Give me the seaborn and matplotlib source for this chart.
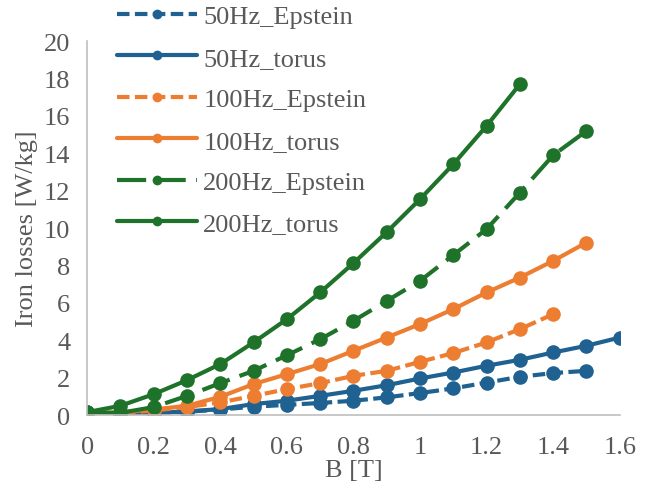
import numpy as np
import pandas as pd
import matplotlib
matplotlib.use("Agg")
import matplotlib.pyplot as plt
import seaborn as sns

sns.set_theme(style="white")
plt.rcParams['font.family'] = ['Liberation Serif', 'DejaVu Serif']

B_50_epstein = [0, 0.1, 0.2, 0.3, 0.4, 0.5, 0.6, 0.7, 0.8, 0.9, 1.0, 1.1, 1.2, 1.3, 1.4, 1.5]
P_50_epstein = [0.0, 0.04, 0.1, 0.18, 0.3, 0.45, 0.55, 0.65, 0.77, 0.95, 1.18, 1.43, 1.74, 2.05, 2.25, 2.37]
B_50_torus = [0, 0.1, 0.2, 0.3, 0.4, 0.5, 0.6, 0.7, 0.8, 0.9, 1.0, 1.1, 1.2, 1.3, 1.4, 1.5, 1.6]
P_50_torus = [0.0, 0.05, 0.12, 0.2, 0.32, 0.59, 0.77, 1.03, 1.3, 1.6, 1.96, 2.28, 2.64, 2.96, 3.35, 3.71, 4.15]
B_100_epstein = [0, 0.1, 0.2, 0.3, 0.4, 0.5, 0.6, 0.7, 0.8, 0.9, 1.0, 1.1, 1.2, 1.3, 1.4]
P_100_epstein = [0.05, 0.1, 0.25, 0.43, 0.68, 1.03, 1.39, 1.71, 2.1, 2.37, 2.85, 3.32, 3.89, 4.6, 5.4]
B_100_torus = [0, 0.1, 0.2, 0.3, 0.4, 0.5, 0.6, 0.7, 0.8, 0.9, 1.0, 1.1, 1.2, 1.3, 1.4, 1.5]
P_100_torus = [0.1, 0.15, 0.3, 0.5, 0.98, 1.66, 2.19, 2.73, 3.44, 4.15, 4.87, 5.67, 6.56, 7.36, 8.25, 9.23]
B_200_epstein = [0, 0.1, 0.2, 0.3, 0.4, 0.5, 0.6, 0.7, 0.8, 0.9, 1.0, 1.1, 1.2, 1.3, 1.4, 1.5]
P_200_epstein = [0.15, 0.12, 0.43, 1.03, 1.71, 2.37, 3.2, 4.06, 5.04, 6.11, 7.18, 8.56, 9.95, 11.9, 13.9, 15.2]
B_200_torus = [0, 0.1, 0.2, 0.3, 0.4, 0.5, 0.6, 0.7, 0.8, 0.9, 1.0, 1.1, 1.2, 1.3]
P_200_torus = [0.16, 0.5, 1.12, 1.87, 2.73, 3.89, 5.13, 6.56, 8.13, 9.79, 11.55, 13.42, 15.47, 17.7]

labels = ["50Hz_Epstein", "50Hz_torus", "100Hz_Epstein", "100Hz_torus", "200Hz_Epstein", "200Hz_torus"]
xs = [B_50_epstein, B_50_torus, B_100_epstein, B_100_torus, B_200_epstein, B_200_torus]
ys = [P_50_epstein, P_50_torus, P_100_epstein, P_100_torus, P_200_epstein, P_200_torus]

blue = "#1f6190"
orange = "#ed7d31"
green = "#1e7229"
colors = [blue, blue, orange, orange, green, green]
styles = [(0, (3, 1.3)), "-", (0, (3, 1.3)), "-", (0, (7, 2.5)), "-"]

fig = plt.figure(figsize=(6.6, 4.85), dpi=100)
ax = fig.add_axes([0.132, 0.142, 0.807, 0.771])

for x, y, lab, c, ls in zip(xs, ys, labels, colors, styles):
    df = pd.DataFrame({"B": x, "P": y})
    sns.lineplot(data=df, x="B", y="P", ax=ax, color=c, linestyle=ls, linewidth=3,
                 marker="o", markersize=10.5, markeredgewidth=0, label=lab)

FS = 19
ax.set_xlim(0, 1.6)
ax.set_ylim(0, 20)
ax.set_xticks(np.arange(0, 1.61, 0.2))
ax.set_xticklabels(["0", "0.2", "0.4", "0.6", "0.8", "1", "1.2", "1.4", "1.6"])
ax.set_yticks(np.arange(0, 21, 2))
ax.tick_params(axis="x", length=0, labelsize=FS, colors="#595959", pad=15)
ax.tick_params(axis="y", length=0, labelsize=FS, colors="#595959", pad=12)
for s in ["top", "right"]:
    ax.spines[s].set_visible(False)
for s in ["left", "bottom"]:
    ax.spines[s].set_color("#bfbfbf")
    ax.spines[s].set_linewidth(1.2)
ax.set_xlabel("B [T]", fontsize=FS, color="#595959", labelpad=1)
ax.set_ylabel("Iron losses [W/kg]", fontsize=FS, color="#595959", labelpad=4)

leg = ax.legend(loc="upper left", frameon=False, fontsize=FS, handlelength=3.0,
                handletextpad=0.25, labelspacing=0.68, borderaxespad=0, borderpad=0)
leg.set_bbox_to_anchor((0.178, 0.988), transform=fig.transFigure)
for t in leg.get_texts():
    t.set_color("#595959")
for h in leg.legend_handles:
    h.set_markersize(7)

fig.savefig("out.png", dpi=100)
